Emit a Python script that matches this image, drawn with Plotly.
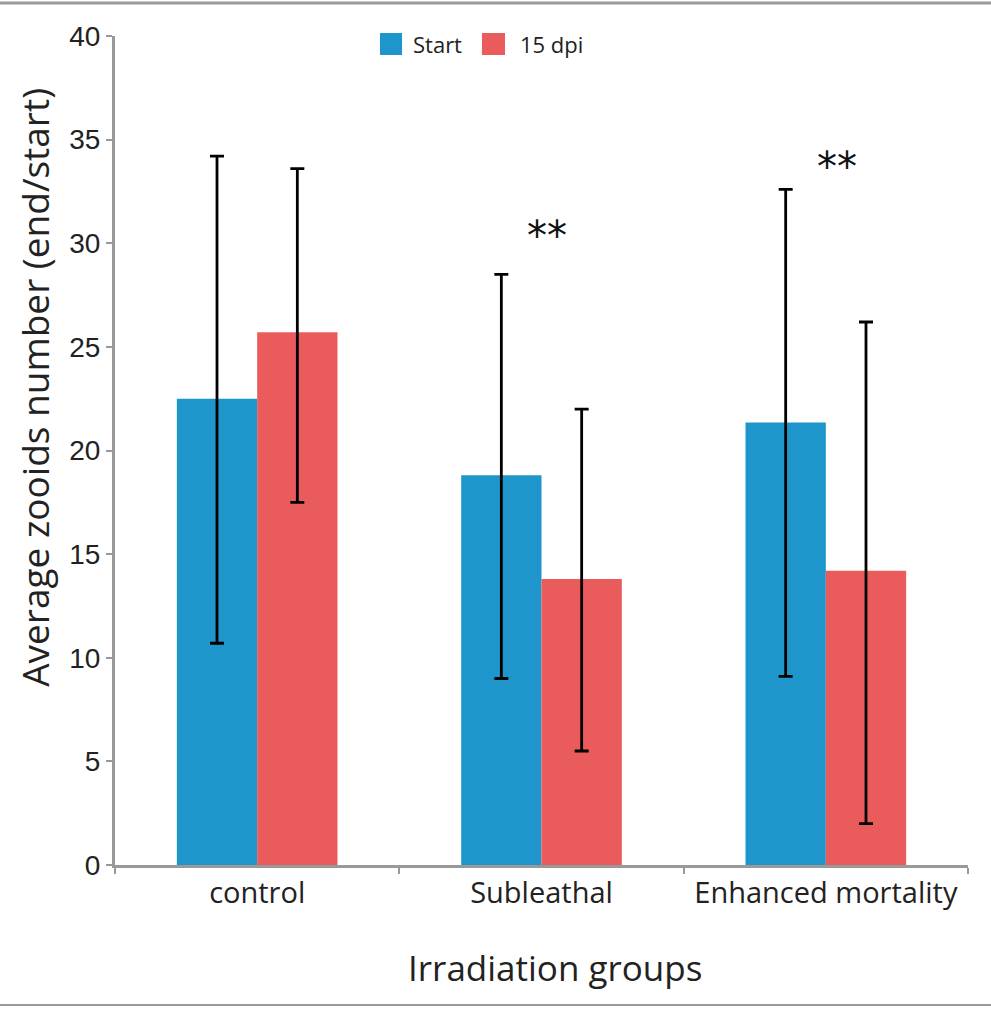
import plotly.graph_objects as go

categories = ["control", "Subleathal", "Enhanced mortality"]
start_vals = [22.5, 18.8, 21.35]
start_err_plus = [11.7, 9.7, 11.25]
start_err_minus = [11.8, 9.8, 12.25]
dpi_vals = [25.7, 13.8, 14.2]
dpi_err_plus = [7.9, 8.2, 12.0]
dpi_err_minus = [8.2, 8.3, 12.2]
sig_labels = ["", "**", "**"]
sig_y = [None, 30.35, 33.7]
sig_shift = [0, 5, 11]
series_names = ["Start", "15 dpi"]

BLUE = "#1F96CB"
RED = "#EA5C5B"
AXIS = "#999999"
TXT = "#222222"

fig = go.Figure()
fig.add_trace(go.Bar(
    name=series_names[0], x=categories, y=start_vals, marker_color=BLUE,
    marker_line_width=0, showlegend=False,
    error_y=dict(type="data", symmetric=False, array=start_err_plus,
                 arrayminus=start_err_minus, color="black", thickness=2.8, width=7),
))
fig.add_trace(go.Bar(
    name=series_names[1], x=categories, y=dpi_vals, marker_color=RED,
    marker_line_width=0, showlegend=False,
    error_y=dict(type="data", symmetric=False, array=dpi_err_plus,
                 arrayminus=dpi_err_minus, color="black", thickness=2.8, width=7),
))

for c, lab, yy, sh in zip(categories, sig_labels, sig_y, sig_shift):
    if lab:
        fig.add_annotation(x=c, y=yy, text=lab, showarrow=False, xshift=sh,
                           font=dict(family="DejaVu Sans", size=40, color="#111111"))

# legend drawn as key squares + labels
legend_items = [(series_names[0], BLUE, 0.3107, 0.3365, 0.347),
                (series_names[1], RED, 0.4302, 0.4572, 0.4725)]
shapes = []
for name, col, x0, x1, tx in legend_items:
    shapes.append(dict(type="rect", xref="paper", yref="paper", x0=x0, x1=x1,
                       y0=0.9771, y1=1.0036, fillcolor=col, line=dict(width=0)))
    fig.add_annotation(xref="paper", yref="paper", x=tx, y=0.9903, xanchor="left",
                       yanchor="middle", text=name, showarrow=False,
                       font=dict(family="Open Sans", size=22, color=TXT))

# axis titles (placed as in the reference, off-centre)
fig.add_annotation(xref="paper", yref="paper", x=-0.094, y=0.5766, textangle=-90,
                   text="Average zooids number (end/start)", showarrow=False,
                   xanchor="center", yanchor="middle",
                   font=dict(family="Open Sans", size=37, color=TXT))
fig.add_annotation(xref="paper", yref="paper", x=0.5158, y=-0.1242,
                   text="Irradiation groups", showarrow=False,
                   xanchor="center", yanchor="middle",
                   font=dict(family="Open Sans", size=35, color=TXT))

shapes += [
    dict(type="line", xref="paper", yref="paper", x0=-0.2, x1=1.2, y0=1.0398, y1=1.0398,
         line=dict(color="#9a9a9a", width=3)),
    dict(type="line", xref="paper", yref="paper", x0=-0.2, x1=1.2, y0=-0.1689, y1=-0.1689,
         line=dict(color="#9a9a9a", width=2)),
]

fig.update_layout(
    width=991, height=1009,
    margin=dict(l=115, r=23, t=36, b=144),
    paper_bgcolor="white", plot_bgcolor="white",
    barmode="group", bargap=0.435, bargroupgap=0,
    font=dict(family="Open Sans", color=TXT),
    showlegend=False,
    shapes=shapes,
)
fig.update_xaxes(
    type="category", range=[-0.5, 2.5], tickson="boundaries",
    showline=True, linecolor=AXIS, linewidth=3, ticks="outside", ticklen=6,
    tickcolor=AXIS, tickwidth=2, showgrid=False,
    tickfont=dict(family="Open Sans", size=29, color=TXT),
)
fig.update_yaxes(
    range=[0, 40], tickvals=[0, 5, 10, 15, 20, 25, 30, 35, 40],
    showline=True, linecolor=AXIS, linewidth=3, ticks="outside", ticklen=6,
    tickcolor=AXIS, tickwidth=2, showgrid=False, zeroline=False,
    tickfont=dict(family="Liberation Sans", size=28, color=TXT),
)

fig.write_html("out.html", config={"displayModeBar": False},
               post_script="document.body.style.margin='0';")
